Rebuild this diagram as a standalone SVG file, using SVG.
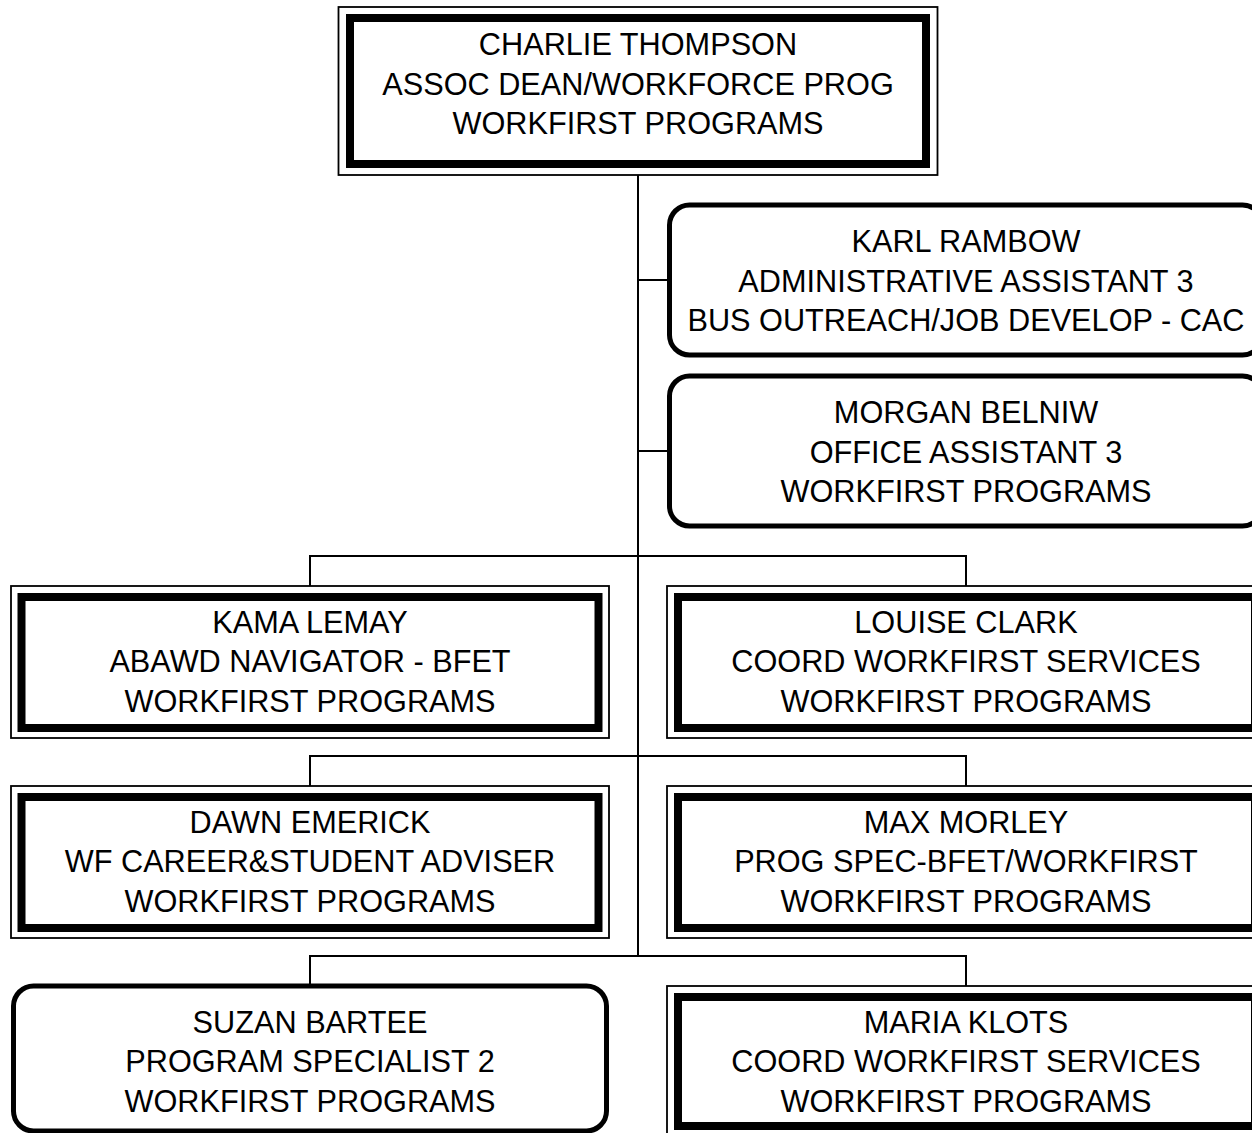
<svg xmlns="http://www.w3.org/2000/svg" width="1252" height="1133" viewBox="0 0 1252 1133">
<style>
.bg{fill:#fff}
.thin{fill:#fff;stroke:#000;stroke-width:1.8}
.thick{fill:none;stroke:#000;stroke-width:8}
.round{fill:#fff;stroke:#000;stroke-width:5}
.conn{fill:none;stroke:#000;stroke-width:2}
text{font-family:"Liberation Sans",Arial,sans-serif;font-size:30.7px;fill:#000;text-anchor:middle}
</style>
<rect class="bg" x="0" y="0" width="1252" height="1133"/>
<g id="connectors">
<line class="conn" x1="638" y1="175" x2="638" y2="956"/>
<line class="conn" x1="638" y1="280" x2="669" y2="280"/>
<line class="conn" x1="638" y1="451" x2="669" y2="451"/>
<polyline class="conn" points="310,586 310,556 966,556 966,586"/>
<polyline class="conn" points="310,786 310,756 966,756 966,786"/>
<polyline class="conn" points="310,986 310,956 966,956 966,986"/>
</g>
<g id="charlie">
<rect class="thin" x="338.5" y="7" width="599" height="168"/>
<rect class="thick" x="350" y="18" width="576" height="146"/>
<text x="638" y="55">CHARLIE THOMPSON</text>
<text x="638" y="94.5">ASSOC DEAN/WORKFORCE PROG</text>
<text x="638" y="134">WORKFIRST PROGRAMS</text>
</g>
<g id="karl">
<rect class="round" x="669.5" y="205" width="593" height="150" rx="20"/>
<text x="966" y="252">KARL RAMBOW</text>
<text x="966" y="292">ADMINISTRATIVE ASSISTANT 3</text>
<text x="966" y="331">BUS OUTREACH/JOB DEVELOP - CAC</text>
</g>
<g id="morgan">
<rect class="round" x="669.5" y="376" width="593" height="150" rx="20"/>
<text x="966" y="423">MORGAN BELNIW</text>
<text x="966" y="463">OFFICE ASSISTANT 3</text>
<text x="966" y="502">WORKFIRST PROGRAMS</text>
</g>
<g id="kama">
<rect class="thin" x="11" y="586" width="598" height="152"/>
<rect class="thick" x="21.5" y="597" width="577" height="131"/>
<text x="310" y="633">KAMA LEMAY</text>
<text x="310" y="672">ABAWD NAVIGATOR - BFET</text>
<text x="310" y="712">WORKFIRST PROGRAMS</text>
</g>
<g id="louise">
<rect class="thin" x="667" y="586" width="598" height="152"/>
<rect class="thick" x="678" y="597" width="577" height="131"/>
<text x="966" y="633">LOUISE CLARK</text>
<text x="966" y="672">COORD WORKFIRST SERVICES</text>
<text x="966" y="712">WORKFIRST PROGRAMS</text>
</g>
<g id="dawn">
<rect class="thin" x="11" y="786" width="598" height="152"/>
<rect class="thick" x="21.5" y="797" width="577" height="131"/>
<text x="310" y="833">DAWN EMERICK</text>
<text x="310" y="872">WF CAREER&amp;STUDENT ADVISER</text>
<text x="310" y="912">WORKFIRST PROGRAMS</text>
</g>
<g id="max">
<rect class="thin" x="667" y="786" width="598" height="152"/>
<rect class="thick" x="678" y="797" width="577" height="131"/>
<text x="966" y="833">MAX MORLEY</text>
<text x="966" y="872">PROG SPEC-BFET/WORKFIRST</text>
<text x="966" y="912">WORKFIRST PROGRAMS</text>
</g>
<g id="suzan">
<rect class="round" x="13.5" y="986" width="593" height="145" rx="20"/>
<text x="310" y="1033">SUZAN BARTEE</text>
<text x="310" y="1072">PROGRAM SPECIALIST 2</text>
<text x="310" y="1112">WORKFIRST PROGRAMS</text>
</g>
<g id="maria">
<rect class="thin" x="667" y="986" width="598" height="152"/>
<rect class="thick" x="678" y="997" width="577" height="129"/>
<text x="966" y="1033">MARIA KLOTS</text>
<text x="966" y="1072">COORD WORKFIRST SERVICES</text>
<text x="966" y="1112">WORKFIRST PROGRAMS</text>
</g>
</svg>
